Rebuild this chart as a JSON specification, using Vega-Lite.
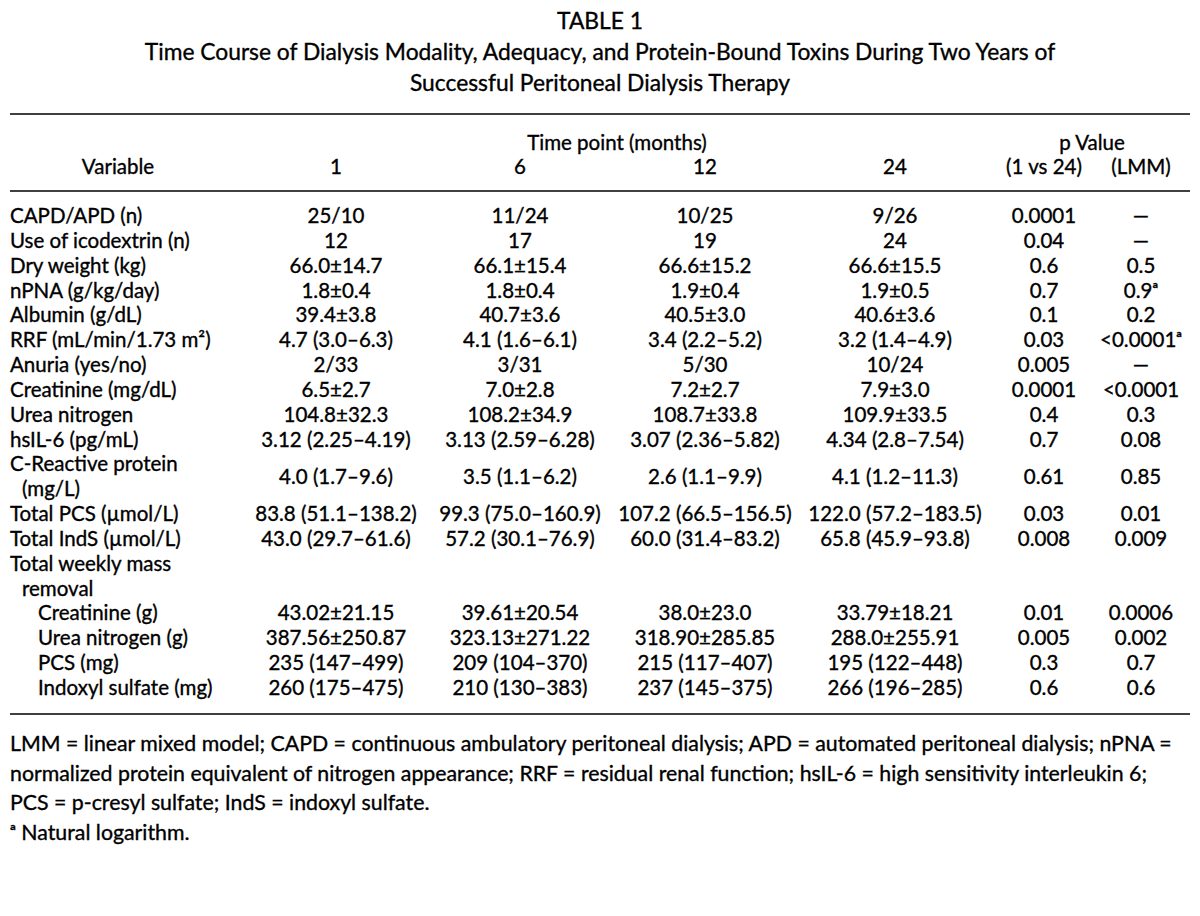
{
  "$schema": "https://vega.github.io/schema/vega-lite/v6.json",
  "width": 1200,
  "height": 916,
  "autosize": {"type": "none"},
  "padding": 0,
  "background": "white",
  "config": {"view": {"stroke": null}, "text": {"font": "Lato", "color": "#000000", "stroke": "#000000", "strokeWidth": 0.35, "baseline": "middle"}},
  "datasets": {
    "titles": [
      {"line": 0, "text": "TABLE 1"},
      {"line": 1, "text": "Time Course of Dialysis Modality, Adequacy, and Protein-Bound Toxins During Two Years of"},
      {"line": 2, "text": "Successful Peritoneal Dialysis Therapy"}
    ],
    "rules": [{"line": 3}, {"line": 6}, {"line": 27}],
    "header": [
      {"line": 4, "slot": 4, "text": "Time point (months)"},
      {"line": 4, "slot": 8, "text": "p Value"},
      {"line": 5, "slot": 1, "text": "Variable"},
      {"line": 5, "slot": 2, "text": "1"},
      {"line": 5, "slot": 3, "text": "6"},
      {"line": 5, "slot": 5, "text": "12"},
      {"line": 5, "slot": 6, "text": "24"},
      {"line": 5, "slot": 7, "text": "(1 vs 24)"},
      {"line": 5, "slot": 9, "text": "(LMM)"}
    ],
    "columns": [
      {"key": "m1", "slot": 2},
      {"key": "m6", "slot": 3},
      {"key": "m12", "slot": 5},
      {"key": "m24", "slot": 6},
      {"key": "p124", "slot": 7},
      {"key": "plmm", "slot": 9}
    ],
    "rows": [
      {"line": 7, "label": "CAPD/APD (n)", "level": 0, "m1": "25/10", "m6": "11/24", "m12": "10/25", "m24": "9/26", "p124": "0.0001", "plmm": "—"},
      {"line": 8, "label": "Use of icodextrin (n)", "level": 0, "m1": "12", "m6": "17", "m12": "19", "m24": "24", "p124": "0.04", "plmm": "—"},
      {"line": 9, "label": "Dry weight (kg)", "level": 0, "m1": "66.0±14.7", "m6": "66.1±15.4", "m12": "66.6±15.2", "m24": "66.6±15.5", "p124": "0.6", "plmm": "0.5"},
      {"line": 10, "label": "nPNA (g/kg/day)", "level": 0, "m1": "1.8±0.4", "m6": "1.8±0.4", "m12": "1.9±0.4", "m24": "1.9±0.5", "p124": "0.7", "plmm": "0.9ᵃ"},
      {"line": 11, "label": "Albumin (g/dL)", "level": 0, "m1": "39.4±3.8", "m6": "40.7±3.6", "m12": "40.5±3.0", "m24": "40.6±3.6", "p124": "0.1", "plmm": "0.2"},
      {"line": 12, "label": "RRF (mL/min/1.73 m²)", "level": 0, "m1": "4.7 (3.0–6.3)", "m6": "4.1 (1.6–6.1)", "m12": "3.4 (2.2–5.2)", "m24": "3.2 (1.4–4.9)", "p124": "0.03", "plmm": "<0.0001ᵃ"},
      {"line": 13, "label": "Anuria (yes/no)", "level": 0, "m1": "2/33", "m6": "3/31", "m12": "5/30", "m24": "10/24", "p124": "0.005", "plmm": "—"},
      {"line": 14, "label": "Creatinine (mg/dL)", "level": 0, "m1": "6.5±2.7", "m6": "7.0±2.8", "m12": "7.2±2.7", "m24": "7.9±3.0", "p124": "0.0001", "plmm": "<0.0001"},
      {"line": 15, "label": "Urea nitrogen", "level": 0, "m1": "104.8±32.3", "m6": "108.2±34.9", "m12": "108.7±33.8", "m24": "109.9±33.5", "p124": "0.4", "plmm": "0.3"},
      {"line": 16, "label": "hsIL-6 (pg/mL)", "level": 0, "m1": "3.12 (2.25–4.19)", "m6": "3.13 (2.59–6.28)", "m12": "3.07 (2.36–5.82)", "m24": "4.34 (2.8–7.54)", "p124": "0.7", "plmm": "0.08"},
      {"line": 17, "label": "C-Reactive protein", "level": 0},
      {"line": 18, "label": "(mg/L)", "level": 1},
      {"line": 17.5, "m1": "4.0 (1.7–9.6)", "m6": "3.5 (1.1–6.2)", "m12": "2.6 (1.1–9.9)", "m24": "4.1 (1.2–11.3)", "p124": "0.61", "plmm": "0.85"},
      {"line": 19, "label": "Total PCS (µmol/L)", "level": 0, "m1": "83.8 (51.1–138.2)", "m6": "99.3 (75.0–160.9)", "m12": "107.2 (66.5–156.5)", "m24": "122.0 (57.2–183.5)", "p124": "0.03", "plmm": "0.01"},
      {"line": 20, "label": "Total IndS (µmol/L)", "level": 0, "m1": "43.0 (29.7–61.6)", "m6": "57.2 (30.1–76.9)", "m12": "60.0 (31.4–83.2)", "m24": "65.8 (45.9–93.8)", "p124": "0.008", "plmm": "0.009"},
      {"line": 21, "label": "Total weekly mass", "level": 0},
      {"line": 22, "label": "removal", "level": 1},
      {"line": 23, "label": "Creatinine (g)", "level": 2, "m1": "43.02±21.15", "m6": "39.61±20.54", "m12": "38.0±23.0", "m24": "33.79±18.21", "p124": "0.01", "plmm": "0.0006"},
      {"line": 24, "label": "Urea nitrogen (g)", "level": 2, "m1": "387.56±250.87", "m6": "323.13±271.22", "m12": "318.90±285.85", "m24": "288.0±255.91", "p124": "0.005", "plmm": "0.002"},
      {"line": 25, "label": "PCS (mg)", "level": 2, "m1": "235 (147–499)", "m6": "209 (104–370)", "m12": "215 (117–407)", "m24": "195 (122–448)", "p124": "0.3", "plmm": "0.7"},
      {"line": 26, "label": "Indoxyl sulfate (mg)", "level": 2, "m1": "260 (175–475)", "m6": "210 (130–383)", "m12": "237 (145–375)", "m24": "266 (196–285)", "p124": "0.6", "plmm": "0.6"}
    ],
    "notes": [
      {"line": 28, "text": "LMM = linear mixed model; CAPD = continuous ambulatory peritoneal dialysis; APD = automated peritoneal dialysis; nPNA ="},
      {"line": 29, "text": "normalized protein equivalent of nitrogen appearance; RRF = residual renal function; hsIL-6 = high sensitivity interleukin 6;"},
      {"line": 30, "text": "PCS = p-cresyl sulfate; IndS = indoxyl sulfate."},
      {"line": 31, "text": "ᵃ Natural logarithm."}
    ]
  },
  "encoding": {
    "y": {
      "field": "line",
      "type": "quantitative",
      "axis": null,
      "scale": {
        "domain": [0, 2, 3, 4, 5, 6, 7, 26, 27, 28, 31],
        "range": [22, 84, 114, 144, 168, 191, 217, 689, 714, 745, 834],
        "zero": false,
        "nice": false
      }
    }
  },
  "layer": [
    {
      "data": {"name": "titles"},
      "mark": {"type": "text", "fontSize": 22.8, "align": "center"},
      "encoding": {"text": {"field": "text"}}
    },
    {
      "data": {"name": "rules"},
      "mark": {"type": "rule", "strokeWidth": 1.5, "color": "#000000"},
      "encoding": {
        "x": {"datum": 0, "type": "quantitative", "axis": null, "scale": {"domain": [0, 1, 2, 3, 4, 5, 6, 7, 8, 9, 10], "range": [10, 118, 336, 520, 617, 705, 895, 1044, 1092, 1141, 1190], "zero": false, "nice": false}},
        "x2": {"datum": 10}
      }
    },
    {
      "data": {"name": "header"},
      "mark": {"type": "text", "fontSize": 20.5, "align": "center"},
      "encoding": {
        "x": {"field": "slot", "type": "quantitative", "axis": null},
        "text": {"field": "text"}
      }
    },
    {
      "data": {"name": "rows"},
      "transform": [{"filter": "isValid(datum.label) && datum.level == 0"}],
      "mark": {"type": "text", "fontSize": 20.5, "align": "left"},
      "encoding": {
        "x": {"datum": 0, "type": "quantitative", "axis": null},
        "text": {"field": "label"}
      }
    },
    {
      "data": {"name": "rows"},
      "transform": [{"filter": "isValid(datum.label) && datum.level == 1"}],
      "mark": {"type": "text", "fontSize": 20.5, "align": "left", "dx": 12},
      "encoding": {
        "x": {"datum": 0, "type": "quantitative", "axis": null},
        "text": {"field": "label"}
      }
    },
    {
      "data": {"name": "rows"},
      "transform": [{"filter": "isValid(datum.label) && datum.level == 2"}],
      "mark": {"type": "text", "fontSize": 20.5, "align": "left", "dx": 28},
      "encoding": {
        "x": {"datum": 0, "type": "quantitative", "axis": null},
        "text": {"field": "label"}
      }
    },
    {
      "data": {"name": "rows"},
      "transform": [
        {"fold": ["m1", "m6", "m12", "m24", "p124", "plmm"], "as": ["key", "value"]},
        {"filter": "isValid(datum.value)"},
        {"lookup": "key", "from": {"data": {"name": "columns"}, "key": "key", "fields": ["slot"]}}
      ],
      "mark": {"type": "text", "fontSize": 20.5, "align": "center"},
      "encoding": {
        "x": {"field": "slot", "type": "quantitative", "axis": null},
        "text": {"field": "value"}
      }
    },
    {
      "data": {"name": "notes"},
      "mark": {"type": "text", "fontSize": 21.3, "align": "left"},
      "encoding": {
        "x": {"datum": 0, "type": "quantitative", "axis": null},
        "text": {"field": "text"}
      }
    }
  ]
}
